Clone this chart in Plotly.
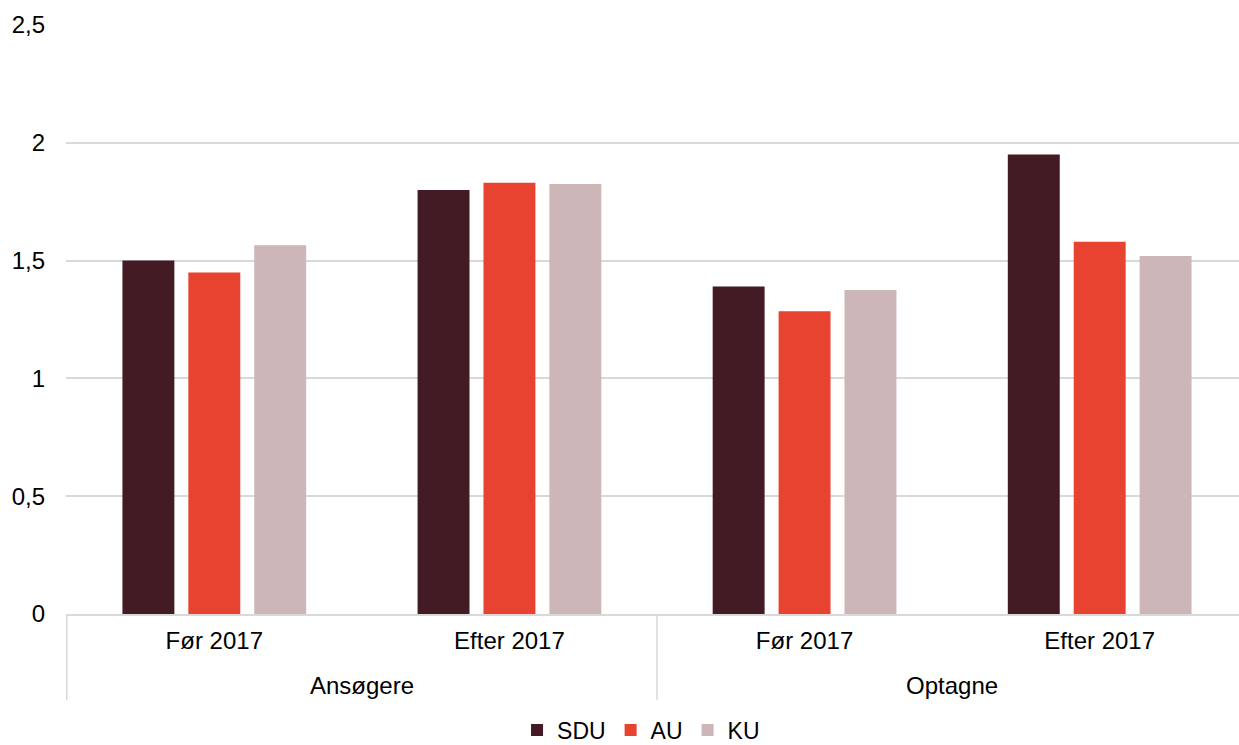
import plotly.graph_objects as go

groups = ["Ansøgere", "Ansøgere", "Optagne", "Optagne"]
periods = ["Før 2017", "Efter 2017", "Før 2017", "Efter 2017"]
sdu = [1.50, 1.80, 1.39, 1.95]
au = [1.45, 1.83, 1.285, 1.58]
ku = [1.565, 1.825, 1.375, 1.52]
series_names = ["SDU", "AU", "KU"]
colors = ["#421B24", "#E84230", "#CDB6B7"]
y_ticks = [0, 0.5, 1, 1.5, 2, 2.5]

keys = [g + "|" + p for g, p in zip(groups, periods)]

fig = go.Figure()
for name, vals, col in zip(series_names, [sdu, au, ku], colors):
    fig.add_trace(go.Bar(x=keys, y=vals, name=name,
                         marker=dict(color=col, line=dict(width=0))))

font = dict(family="Liberation Sans, Arial, sans-serif", size=24, color="#000000")
grid_col = "#D9D9D9"

# outer group labels and dividers, positioned on the category axis
group_names = []
for g in groups:
    if g not in group_names:
        group_names.append(g)
for gname in group_names:
    idx = [i for i, g in enumerate(groups) if g == gname]
    fig.add_annotation(x=(idx[0] + idx[-1]) / 2, xref="x", y=-0.1222, yref="paper",
                       text=gname, showarrow=False, font=font, yanchor="middle")
div_pos = [-0.5] + [i + 0.5 for i in range(len(groups) - 1) if groups[i] != groups[i + 1]] + [len(groups) - 0.5]
for xp in div_pos:
    fig.add_shape(type="line", xref="x", yref="paper", x0=xp, x1=xp, y0=0, y1=-0.146,
                  line=dict(color=grid_col, width=1.5))

fig.update_layout(
    width=1248, height=745,
    margin=dict(l=66, r=0, t=25, b=131, autoexpand=False),
    paper_bgcolor="white", plot_bgcolor="white",
    separators=",.",
    barmode="group", bargap=0.33, bargroupgap=0.212,
    font=font,
    showlegend=True,
    legend=dict(orientation="h", x=0.4865, xanchor="center", y=-0.1970, yanchor="middle",
                font=dict(size=23), itemwidth=30, traceorder="normal"),
    xaxis=dict(type="category", tickvals=keys, ticktext=periods, showgrid=False,
               showline=True, linecolor=grid_col, linewidth=1.5,
               tickfont=font, ticks="", automargin=False, ticklabelstandoff=4),
    yaxis=dict(range=[0, 2.5], tickvals=y_ticks, showgrid=True, gridcolor=grid_col,
               gridwidth=1.5, zeroline=False, showline=False, tickfont=font, ticks="",
               ticklabelstandoff=20, automargin=False),
)
fig.write_html("out.html", config={"displayModeBar": False})

with open("out.html", "r", encoding="utf-8") as f:
    html = f.read()
style = ("<style>html,body{margin:0;padding:0;overflow:hidden;height:745px;}"
         ".plotly-graph-div{display:block;}</style>")
html = html.replace("<head>", "<head>" + style, 1)
with open("out.html", "w", encoding="utf-8") as f:
    f.write(html)
